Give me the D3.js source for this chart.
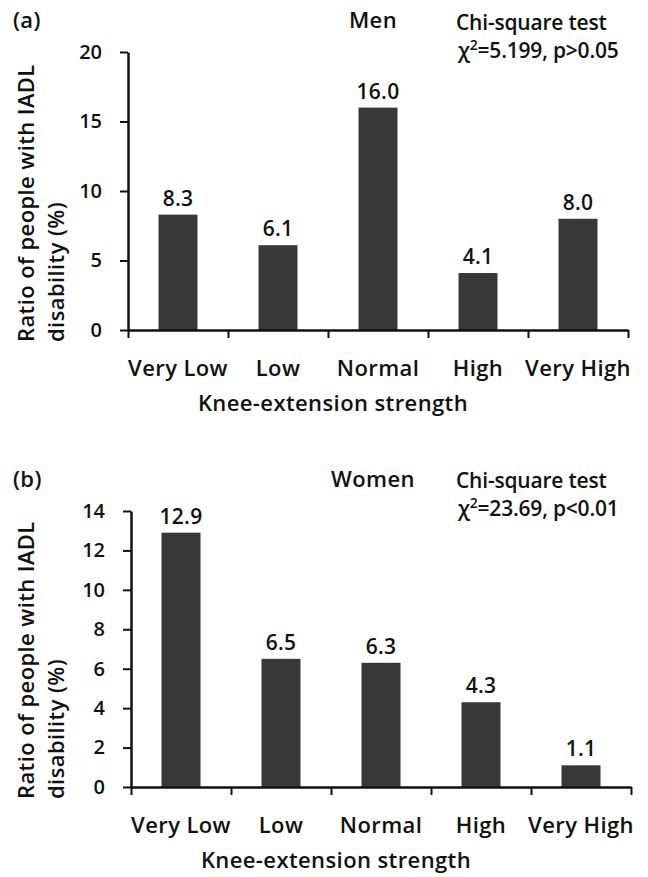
<!DOCTYPE html>
<html>
  <head>
    <meta charset="utf-8">
    <script src="https://d3js.org/d3.v7.min.js"></script>
    <style>
      body { margin: 0; background: #fff; }
      text { font-family: "Open Sans", "DejaVu Sans", sans-serif; fill: #111; font-weight: 600; }
      .cat text { font-size: 22px; letter-spacing: 0.4px; }
      .axis-title { font-size: 22px; letter-spacing: 0.4px; }
      .note { font-size: 21px; letter-spacing: -0.2px; }
      .val { font-size: 21px; letter-spacing: 0.3px; }
    </style>
  </head>
  <body>
    <svg width="648" height="877"></svg>
    <script>
      // data
      const categories = ['Very Low', 'Low', 'Normal', 'High', 'Very High'];
      const menValues = [8.3, 6.1, 16.0, 4.1, 8.0];
      const womenValues = [12.9, 6.5, 6.3, 4.3, 1.1];
      const menTicks = [0, 5, 10, 15, 20];
      const womenTicks = [0, 2, 4, 6, 8, 10, 12, 14];
      const yLabelLines = ['Ratio of people with IADL', 'disability (%)'];
      const xLabel = 'Knee-extension strength';

      const svg = d3.select('svg');

      const panels = [
        { tag: '(a)', group: 'Men', values: menValues, ticks: menTicks,
          chi: ['5.199, p>0.05'], left: 128, top: 52, bottom: 330,
          tagY: 28, chiY: 30 },
        { tag: '(b)', group: 'Women', values: womenValues, ticks: womenTicks,
          chi: ['23.69, p<0.01'], left: 131, top: 511, bottom: 787,
          tagY: 487, chiY: 488 }
      ];

      panels.forEach(p => {
        const width = 500;
        const g = svg.append('g');

        const y = d3.scaleLinear()
          .domain([0, d3.max(p.ticks)])
          .range([p.bottom, p.top]);
        const x = d3.scaleBand()
          .domain(categories)
          .range([p.left, p.left + width]);
        const xEdge = d3.scaleLinear()
          .domain([0, categories.length])
          .range([p.left, p.left + width]);
        const barW = x.bandwidth() * 0.39;

        // bars
        g.selectAll('rect').data(p.values)
          .enter().append('rect')
            .attr('x', (d, i) => x(categories[i]) + (x.bandwidth() - barW) / 2)
            .attr('y', d => y(d))
            .attr('width', barW)
            .attr('height', d => y(0) - y(d))
            .attr('fill', '#383838');

        // value labels
        g.selectAll('.val').data(p.values)
          .enter().append('text')
            .attr('class', 'val')
            .attr('x', (d, i) => x(categories[i]) + x.bandwidth() / 2)
            .attr('y', d => y(d) - 9)
            .attr('text-anchor', 'middle')
            .text(d => d3.format('.1f')(d));

        // y axis
        const yAxisG = g.append('g')
          .attr('transform', `translate(${p.left},0)`)
          .call(d3.axisLeft(y).tickValues(p.ticks).tickSize(8).tickSizeOuter(0).tickPadding(18));
        yAxisG.selectAll('line').attr('stroke', '#111').attr('stroke-width', 2);
        yAxisG.select('.domain').attr('stroke', '#111').attr('stroke-width', 2.5);
        yAxisG.selectAll('text').attr('font-size', 20).attr('font-family', null);

        // x axis: ticks between categories
        const xTickG = g.append('g')
          .attr('transform', `translate(0,${p.bottom})`)
          .call(d3.axisBottom(xEdge).tickValues(d3.range(categories.length + 1))
            .tickSize(8).tickSizeOuter(0).tickFormat(''));
        xTickG.selectAll('line').attr('stroke', '#111').attr('stroke-width', 2);
        xTickG.select('.domain').attr('stroke', '#111').attr('stroke-width', 2.5);

        const xCatG = g.append('g')
          .attr('class', 'cat')
          .attr('transform', `translate(0,${p.bottom})`)
          .call(d3.axisBottom(x).tickSize(0).tickPadding(30));
        xCatG.select('.domain').remove();
        xCatG.selectAll('text').attr('font-size', null).attr('font-family', null);

        // axis titles
        g.append('text')
          .attr('class', 'axis-title')
          .attr('x', p.left + width / 2 - 45)
          .attr('y', p.bottom + 81)
          .attr('text-anchor', 'middle')
          .text(xLabel);

        yLabelLines.forEach((line, i) => {
          g.append('text')
            .attr('class', 'axis-title')
            .attr('transform', `translate(${34 + i * 30},${p.bottom + 12}) rotate(-90)`)
            .text(line);
        });

        // panel tag, group and test notes
        g.append('text').attr('class', 'axis-title')
          .attr('x', 13).attr('y', p.tagY).text(p.tag);
        g.append('text').attr('class', 'axis-title')
          .attr('x', 373).attr('y', p.tagY).attr('text-anchor', 'middle').text(p.group);
        g.append('text').attr('class', 'note')
          .attr('x', 456).attr('y', p.chiY).text('Chi-square test');
        const chiT = g.append('text').attr('class', 'note')
          .attr('x', 458).attr('y', p.chiY + 28);
        chiT.append('tspan').text('χ');
        chiT.append('tspan').attr('font-size', 14).attr('dy', -8).text('2');
        chiT.append('tspan').attr('dy', 8).text('=' + p.chi[0]);
      });
    </script>
  </body>
</html>
